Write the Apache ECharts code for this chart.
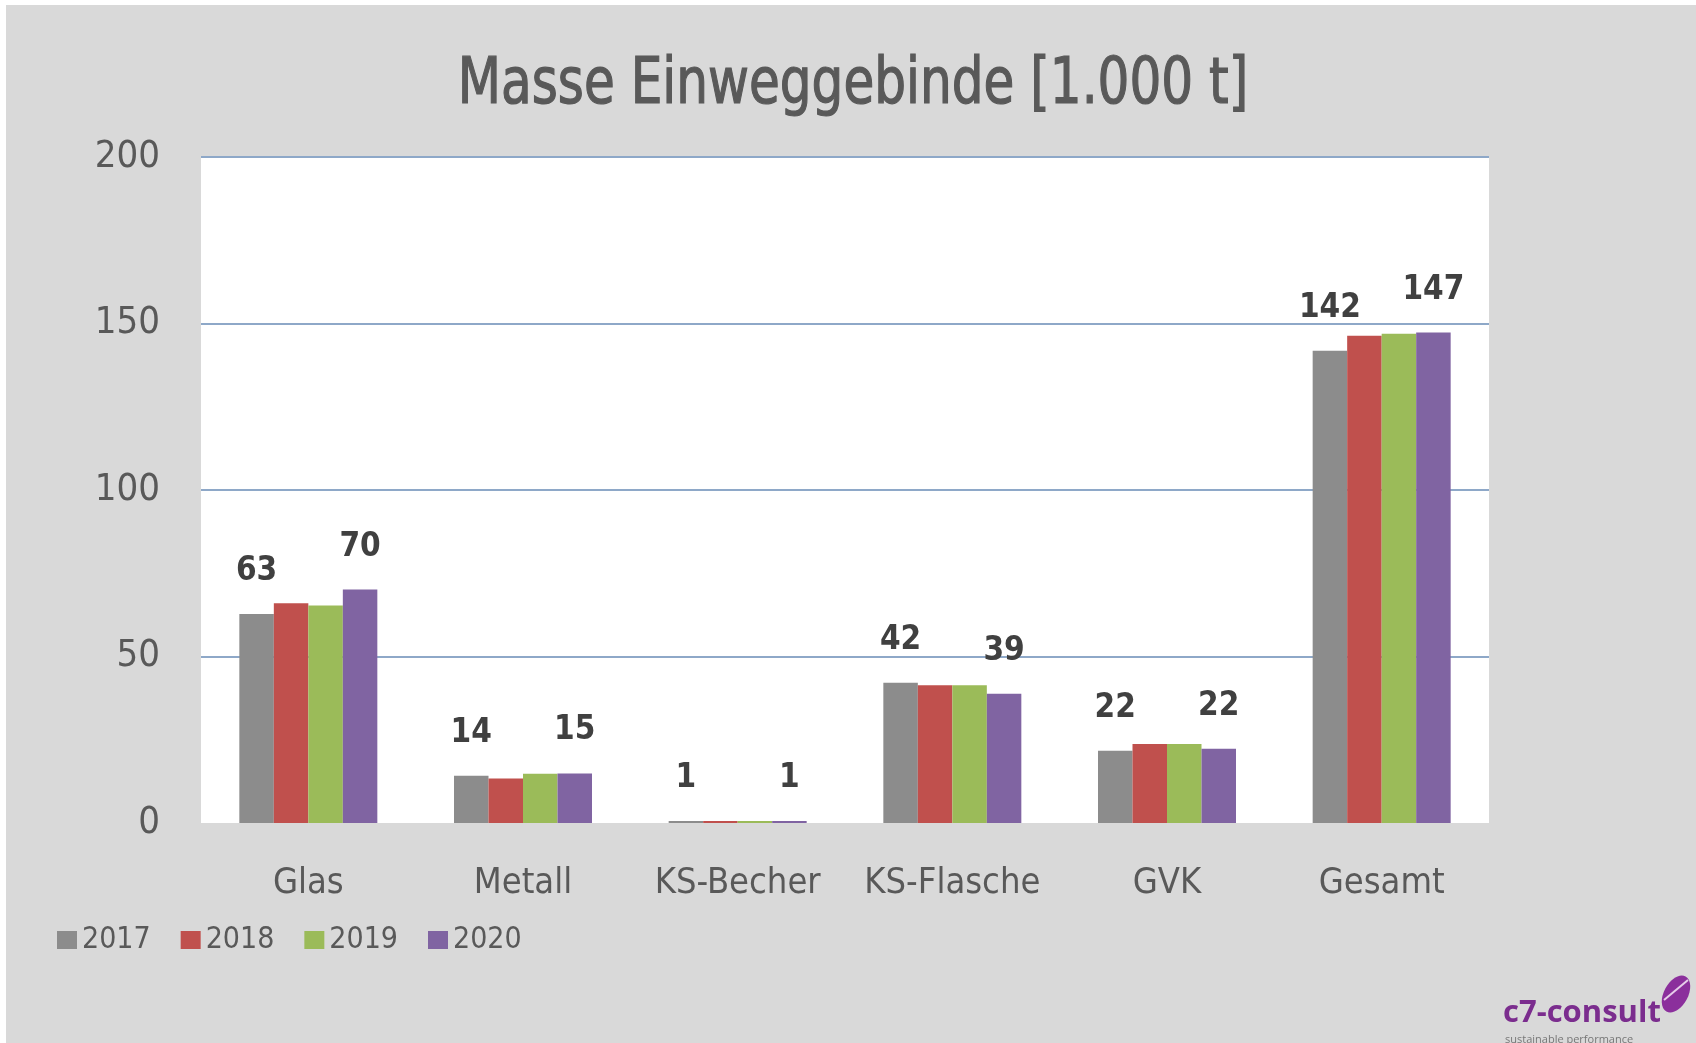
<!DOCTYPE html>
<html>
<head>
<meta charset="utf-8">
<script src="https://cdn.jsdelivr.net/npm/echarts@6/dist/echarts.min.js"></script>
<style>
  html, body { margin: 0; padding: 0; background: #ffffff; }
  #bg { position: absolute; left: 6px; top: 5px; width: 1690px; height: 1038px; background: #d9d9d9; }
  #myecharts { position: absolute; left: 0; top: 0; width: 1696px; height: 1043px; }
</style>
</head>
<body>
<div id="bg"></div>
<div id="myecharts"></div>
<script>
// data (1.000 t)
var categories = ['Glas', 'Metall', 'KS-Becher', 'KS-Flasche', 'GVK', 'Gesamt'];
var years = ['2017', '2018', '2019', '2020'];
var v2017 = [62.8, 14.2, 0.6, 42.1, 21.7, 141.8];
var v2018 = [66.0, 13.4, 0.6, 41.4, 23.7, 146.3];
var v2019 = [65.3, 14.8, 0.6, 41.4, 23.7, 146.9];
var v2020 = [70.1, 14.9, 0.6, 38.8, 22.3, 147.3];
var yTicks = [0, 50, 100, 150, 200];

var colors = ['#8c8c8c', '#c0504d', '#9bbb59', '#8064a2'];
var narrow = '"DejaVu Sans Condensed", "DejaVu Sans", sans-serif';

var myChart = echarts.init(document.getElementById('myecharts'));

function makeSeries(name, data, idx, withLabel) {
    return {
        name: name,
        type: 'bar',
        data: data,
        barWidth: 34.5,
        barGap: '0%',
        itemStyle: { color: colors[idx] },
        label: {
            show: withLabel,
            position: 'top',
            distance: 26,
            fontFamily: narrow,
            fontWeight: 'bold',
            fontSize: 33,
            color: '#404040',
            formatter: function (p) { return Math.round(p.value); }
        }
    };
}

var option = {
    animation: false,
    legend: {
        left: 52,
        top: 920,
        itemWidth: 20,
        itemHeight: 18,
        itemGap: 30,
        icon: 'rect',
        data: years,
        textStyle: { fontFamily: narrow, fontSize: 30, color: '#595959' }
    },
    grid: {
        left: 201,
        top: 157,
        width: 1288,
        height: 666,
        show: true,
        backgroundColor: '#ffffff',
        borderWidth: 0
    },
    xAxis: {
        type: 'category',
        data: categories,
        axisLine: { show: false },
        axisTick: { show: false },
        axisLabel: {
            interval: 0,
            margin: 43,
            fontFamily: narrow,
            fontSize: 36,
            color: '#595959'
        }
    },
    yAxis: {
        type: 'value',
        min: yTicks[0],
        max: yTicks[yTicks.length - 1],
        interval: 50,
        axisLine: { show: false },
        axisTick: { show: false },
        axisLabel: {
            margin: 41,
            fontFamily: narrow,
            fontSize: 38,
            color: '#595959'
        },
        splitLine: {
            showMinLine: false,
            lineStyle: { color: '#8ea8c8', width: 2 }
        }
    },
    graphic: [
        {
            // title, squeezed a little to look like the condensed original
            type: 'text',
            x: 853,
            y: 86,
            scaleX: 0.87,
            style: {
                text: 'Masse Einweggebinde [1.000 t]',
                font: '64px "DejaVu Sans Condensed", sans-serif',
                fill: '#595959',
                stroke: '#595959',
                lineWidth: 1.2,
                textAlign: 'center',
                textVerticalAlign: 'middle'
            }
        },
        {
            type: 'text',
            left: 1503,
            top: 998,
            style: {
                text: 'c7-consult',
                font: 'bold 31px "Open Sans", sans-serif',
                fill: '#7b2d8e'
            }
        },
        {
            type: 'text',
            left: 1505,
            top: 1034,
            style: {
                text: 'sustainable performance',
                font: '11px "Open Sans", sans-serif',
                fill: '#777777'
            }
        },
        {
            type: 'ellipse',
            shape: { cx: 1676, cy: 994, rx: 12, ry: 20 },
            rotation: -0.5,
            originX: 1676,
            originY: 994,
            style: { fill: '#8b2f9c' }
        },
        {
            type: 'line',
            shape: { x1: 1664, y1: 1000, x2: 1688, y2: 980 },
            style: { stroke: '#e6cce9', lineWidth: 2 }
        }
    ],
    series: [
        makeSeries(years[0], v2017, 0, true),
        makeSeries(years[1], v2018, 1, false),
        makeSeries(years[2], v2019, 2, false),
        makeSeries(years[3], v2020, 3, true)
    ]
};

myChart.setOption(option);
</script>
</body>
</html>
